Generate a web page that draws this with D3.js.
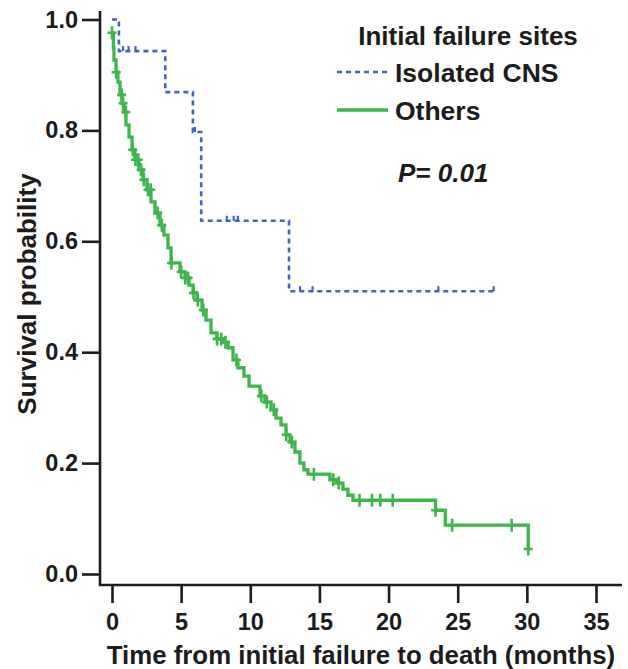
<!DOCTYPE html>
<html>
<head>
<meta charset="utf-8">
<script src="https://cdn.jsdelivr.net/npm/d3@7"></script>
<style>
  html, body { margin: 0; padding: 0; background: #fff; }
  svg { display: block; font-family: "Liberation Sans", Arial, sans-serif; }
</style>
</head>
<body>
<svg id="chart" width="628" height="669"></svg>
<script>
// ---- data ----
const xTicks = [0, 5, 10, 15, 20, 25, 30, 35];
const yTicks = [0.0, 0.2, 0.4, 0.6, 0.8, 1.0];

// Isolated CNS (step points: time, survival)
const cnsTime = [0, 0.5, 3.85, 5.85, 6.45, 12.8, 27.7];
const cnsSurv = [1.0, 0.943, 0.869, 0.797, 0.637, 0.51, 0.51];
const cnsCensor = [0.8, 1.2, 1.7, 6.0, 8.3, 8.8, 9.1, 13.6, 14.5, 23.6, 27.6];

// Others (step points: time, survival)
const othersTime = [0, 0.1, 0.14, 0.29, 0.43, 0.58, 0.72, 0.87, 1.01, 1.23, 1.45, 1.66, 1.95, 2.24, 2.53, 2.82,
  3.11, 3.47, 3.76, 4.05, 4.27, 4.92, 5.28, 5.57, 5.86, 6.15, 6.51, 6.80, 7.16, 7.59, 8.03, 8.39, 8.75,
  9.11, 9.54, 9.91, 10.70, 11.06, 11.50, 11.86, 12.22, 12.58, 12.87, 13.23, 13.59, 13.88, 14.17, 15.76,
  16.27, 16.70, 17.06, 17.43, 23.4, 24.1, 30.1];
const othersSurv = [0.976, 0.949, 0.927, 0.905, 0.887, 0.864, 0.849, 0.833, 0.810, 0.788, 0.765, 0.747, 0.729,
  0.711, 0.693, 0.671, 0.651, 0.629, 0.611, 0.588, 0.561, 0.545, 0.534, 0.521, 0.507, 0.494, 0.476, 0.458,
  0.435, 0.424, 0.418, 0.408, 0.386, 0.372, 0.357, 0.339, 0.321, 0.310, 0.296, 0.281, 0.269, 0.251, 0.238,
  0.220, 0.200, 0.188, 0.180, 0.170, 0.164, 0.153, 0.142, 0.133, 0.115, 0.088, 0.045];
const othersCensor = [0, 0.3, 0.7, 0.8, 1.0, 1.5, 1.7, 1.9, 2.1, 2.3, 2.6, 2.8, 3.3, 3.6, 4.3, 5.0, 5.3, 5.5,
  5.9, 6.2, 6.6, 7.6, 7.9, 8.2, 9.0, 10.8, 11.2, 11.7, 12.6, 13.0, 14.6, 16.0, 16.4, 17.9, 18.8, 19.4,
  20.3, 23.4, 24.6, 28.9, 30.1];

const legendTitle = "Initial failure sites";
const seriesNames = ["Isolated CNS", "Others"];
const pText = "P= 0.01";
const xTitle = "Time from initial failure to death (months)";
const yTitle = "Survival probability";

// ---- drawing ----
const svg = d3.select("#chart");
const ink = "#1c1c1c";
const blue = "#4262c8";
const green = "#3db64b";

const x = d3.scaleLinear().domain([0, 35]).range([112, 596]);
const y = d3.scaleLinear().domain([0, 1]).range([574, 19.5]);

// axis domain lines
svg.append("line").attr("x1", 100).attr("x2", 100).attr("y1", 11).attr("y2", 586)
  .attr("stroke", ink).attr("stroke-width", 2.6);
svg.append("line").attr("x1", 99).attr("x2", 622).attr("y1", 585).attr("y2", 585)
  .attr("stroke", ink).attr("stroke-width", 2.6);

const yAxis = svg.append("g").attr("transform", "translate(100,0)")
  .call(d3.axisLeft(y).tickValues(yTicks).tickFormat(d3.format(".1f")).tickSize(18).tickPadding(4));
const xAxis = svg.append("g").attr("transform", "translate(0,585)")
  .call(d3.axisBottom(x).tickValues(xTicks).tickFormat(d3.format("d")).tickSize(18).tickPadding(10));

[yAxis, xAxis].forEach(g => {
  g.select(".domain").remove();
  g.selectAll(".tick line").attr("stroke", ink).attr("stroke-width", 2.6);
  g.selectAll(".tick text").attr("fill", ink).attr("font-size", 23.5).attr("font-weight", "bold")
    .attr("font-family", "'Liberation Sans', Arial, sans-serif");
});

// axis titles
svg.append("text").attr("x", 361).attr("y", 664).attr("text-anchor", "middle")
  .attr("font-size", 25.8).attr("font-weight", "bold").attr("fill", ink).text(xTitle);
svg.append("text").attr("transform", "translate(36,294) rotate(-90)").attr("text-anchor", "middle")
  .attr("font-size", 26).attr("font-weight", "bold").attr("fill", ink).text(yTitle);

// curves
function stepAt(times, survs, t) {
  let s = survs[0];
  for (let i = 0; i < times.length; i++) { if (times[i] <= t) s = survs[i]; }
  return s;
}
const line = d3.line().x(d => x(d[0])).y(d => y(d[1])).curve(d3.curveStepAfter);

const cnsPts = cnsTime.map((t, i) => [t, cnsSurv[i]]);
const othersPts = othersTime.map((t, i) => [t, othersSurv[i]]);

svg.append("path").datum(othersPts).attr("d", line).attr("fill", "none")
  .attr("stroke", green).attr("stroke-width", 3.3).attr("stroke-linejoin", "miter");
svg.selectAll(".oc").data(othersCensor).enter().append("path")
  .attr("d", t => {
    const cx = x(t), cy = y(stepAt(othersTime, othersSurv, t));
    return `M${cx},${cy - 6.5}V${cy + 6.5}M${cx - 4.5},${cy}H${cx + 4.5}`;
  })
  .attr("stroke", green).attr("stroke-width", 2.6).attr("fill", "none");

svg.append("path").datum(cnsPts).attr("d", line).attr("fill", "none")
  .attr("stroke", blue).attr("stroke-width", 2.6).attr("stroke-dasharray", "5,4");
svg.selectAll(".cc").data(cnsCensor).enter().append("path")
  .attr("d", t => {
    const cx = x(t), cy = y(stepAt(cnsTime, cnsSurv, t));
    return `M${cx},${cy - 5}V${cy}`;
  })
  .attr("stroke", blue).attr("stroke-width", 2.2).attr("fill", "none");

// legend
svg.append("text").attr("x", 468).attr("y", 45).attr("text-anchor", "middle")
  .attr("font-size", 26).attr("font-weight", "bold").attr("fill", ink).text(legendTitle);
const legColors = [blue, green];
const legDash = ["5,4", null];
const legY = [72, 110];
seriesNames.forEach((name, i) => {
  svg.append("line").attr("x1", 337).attr("x2", 388).attr("y1", legY[i]).attr("y2", legY[i])
    .attr("stroke", legColors[i]).attr("stroke-width", i === 0 ? 2.6 : 3.3)
    .attr("stroke-dasharray", legDash[i]);
  svg.append("text").attr("x", 395).attr("y", legY[i] + 10)
    .attr("font-size", 26.5).attr("font-weight", "bold").attr("fill", ink).text(name);
});
svg.append("text").attr("x", 398).attr("y", 182).attr("font-size", 26)
  .attr("font-weight", "bold").attr("font-style", "italic").attr("fill", ink).text(pText);
</script>
</body>
</html>
